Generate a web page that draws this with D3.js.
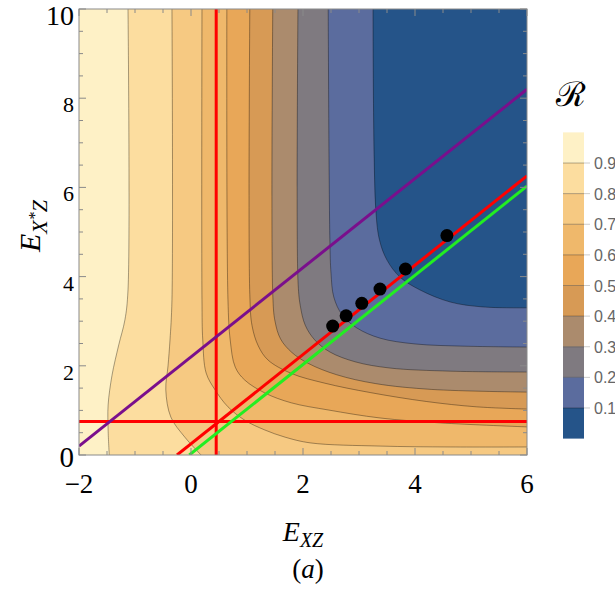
<!DOCTYPE html>
<html>
<head>
<meta charset="utf-8">
<script src="https://cdn.jsdelivr.net/npm/d3@7"></script>
<style>
  body { margin: 0; background: #ffffff; }
  svg { display: block; }
</style>
</head>
<body>
<div id="chart-container"></div>
<script>
const width = 615;
const height = 598;
const marginLeft = 79;
const marginRight = 88;
const marginTop = 9;
const marginBottom = 143;

// contour levels and band colours (from >0.9 down to <0.1)
const levels = [0.9, 0.8, 0.7, 0.6, 0.5, 0.4, 0.3, 0.2, 0.1];
const bandColors = ["#fef1c6", "#fcdd9f", "#f6c982", "#efb86b", "#e8a758",
                    "#d79a55", "#ab8b6d", "#7f7a80", "#5b6c9e", "#255489"];
const legendTicks = ["0.9", "0.8", "0.7", "0.6", "0.5", "0.4", "0.3", "0.2", "0.1"];

// contour lines, [E_XZ, E_X*Z]
const c90 = [[-1.125, 10], [-1.125, 3.7], [-1.18, 3.03], [-1.29, 2.47], [-1.41, 1.79], [-1.48, 1.12], [-1.48, 0.56], [-1.46, 0]];
const c80 = [[-0.34, 10], [-0.34, 3.48], [-0.375, 2.58], [-0.41, 2.0], [-0.45, 1.46], [-0.36, 0.85], [-0.11, 0.40], [0.18, 0]];
const c70 = [[0.196, 10], [0.196, 3.48], [0.21, 2.58], [0.27, 1.84], [0.43, 1.46], [0.66, 1.08], [0.96, 0.78], [1.32, 0.56], [1.68, 0.40], [2.14, 0.27], [3.375, 0.20], [4.63, 0.18], [6, 0.18]];
const c60 = [[0.64, 10], [0.66, 3.48], [0.70, 2.58], [0.79, 1.97], [0.96, 1.68], [1.32, 1.39], [1.79, 1.17], [2.45, 1.01], [3.375, 0.83], [4.45, 0.72], [6, 0.63]];
const c50 = [[1.05, 10], [1.05, 3.6], [1.09, 2.9], [1.2, 2.45], [1.375, 2.13], [1.79, 1.83], [2.39, 1.61], [3.2, 1.4], [4.2, 1.2], [5.1, 1.08], [6, 1.03]];
const c40 = [[1.46, 10], [1.46, 3.6], [1.5, 3.0], [1.6, 2.6], [1.8, 2.3], [2.1, 2.05], [2.6, 1.8], [3.3, 1.6], [4.3, 1.47], [6, 1.41]];
const c30 = [[1.91, 10], [1.91, 3.92], [1.95, 3.36], [2.04, 2.91], [2.21, 2.58], [2.48, 2.31], [2.93, 2.09], [3.55, 1.95], [4.63, 1.88], [6, 1.86]];
const c20 = [[2.45, 10], [2.48, 4.82], [2.5, 4.08], [2.55, 3.54], [2.70, 3.14], [2.96, 2.85], [3.375, 2.62], [4.0, 2.49], [4.89, 2.44], [6, 2.42]];
const c10 = [[3.25, 10], [3.30, 5.5], [3.37, 4.8], [3.5, 4.37], [3.73, 3.99], [4.09, 3.70], [4.63, 3.43], [5.21, 3.32], [6, 3.30]];
const contourLines = [c90, c80, c70, c60, c50, c40, c30, c20, c10];

// straight lines
const redVertical = [[0.45, 0], [0.45, 10]];
const redHorizontal = [[-2, 0.75], [6, 0.75]];
const redDiagonal = [[-0.25, 0], [6, 6.26]];
const greenDiagonal = [[-0.03, 0], [6, 6.03]];
const purpleDiagonal = [[-2, 0.2], [6, 8.2]];

// black points
const dotsX = [2.53, 2.77, 3.05, 3.375, 3.83, 4.57];
const dotsY = [2.89, 3.12, 3.40, 3.72, 4.17, 4.92];

const xTicks = [-2, 0, 2, 4, 6];
const yTicks = [0, 2, 4, 6, 8, 10];

const svg = d3.select("#chart-container")
    .append("svg")
    .attr("width", width)
    .attr("height", height);

const x = d3.scaleLinear().domain([-2, 6]).range([marginLeft, width - marginRight]);
const y = d3.scaleLinear().domain([0, 10]).range([height - marginBottom, marginTop]);

svg.append("clipPath").attr("id", "plotclip")
    .append("rect")
    .attr("x", x(-2)).attr("y", y(10))
    .attr("width", x(6) - x(-2)).attr("height", y(0) - y(10));

const plot = svg.append("g").attr("clip-path", "url(#plotclip)");

// background band (>0.9)
plot.append("rect")
    .attr("x", x(-2)).attr("y", y(10))
    .attr("width", x(6) - x(-2)).attr("height", y(0) - y(10))
    .attr("fill", bandColors[0]);

const curve = d3.line().x(d => x(d[0])).y(d => y(d[1])).curve(d3.curveCatmullRom.alpha(0.5));

// region below each level: contour + top-right corner of the frame
contourLines.forEach((pts, i) => {
    const last = pts[pts.length - 1];
    let path = curve(pts);
    if (last[1] === 0) path += `L${x(6)},${y(0)}`;
    path += `L${x(6)},${y(10)}Z`;
    plot.append("path")
        .attr("d", path)
        .attr("fill", bandColors[i + 1]);
});

contourLines.forEach(pts => {
    plot.append("path")
        .attr("d", curve(pts))
        .attr("fill", "none")
        .attr("stroke", "#000")
        .attr("stroke-opacity", 0.35)
        .attr("stroke-width", 1);
});

const straight = d3.line().x(d => x(d[0])).y(d => y(d[1]));
[[redVertical, "#ff0000"], [redHorizontal, "#ff0000"], [purpleDiagonal, "#7a0f8c"],
 [greenDiagonal, "#22ee22"], [redDiagonal, "#ff0000"]].forEach(([pts, col]) => {
    plot.append("path")
        .attr("d", straight(pts))
        .attr("fill", "none")
        .attr("stroke", col)
        .attr("stroke-width", 3);
});

plot.selectAll("circle.dot")
    .data(dotsX.map((d, i) => [d, dotsY[i]]))
    .join("circle")
    .attr("class", "dot")
    .attr("cx", d => x(d[0]))
    .attr("cy", d => y(d[1]))
    .attr("r", 6.5)
    .attr("fill", "#000");

// frame and ticks
const frameColor = "#8a8a8a";
svg.append("rect")
    .attr("x", x(-2)).attr("y", y(10))
    .attr("width", x(6) - x(-2)).attr("height", y(0) - y(10))
    .attr("fill", "none")
    .attr("stroke", frameColor)
    .attr("stroke-width", 1);

const tickG = svg.append("g").attr("stroke", frameColor).attr("stroke-width", 1);
d3.range(-2, 6.01, 0.5).forEach(v => {
    const len = Math.abs(v % 2) < 1e-9 ? 7 : 4;
    tickG.append("line").attr("x1", x(v)).attr("x2", x(v)).attr("y1", y(0)).attr("y2", y(0) - len);
    tickG.append("line").attr("x1", x(v)).attr("x2", x(v)).attr("y1", y(10)).attr("y2", y(10) + len);
});
d3.range(0, 10.01, 0.5).forEach(v => {
    const len = Math.abs(v % 2) < 1e-9 ? 7 : 4;
    tickG.append("line").attr("y1", y(v)).attr("y2", y(v)).attr("x1", x(-2)).attr("x2", x(-2) + len);
    tickG.append("line").attr("y1", y(v)).attr("y2", y(v)).attr("x1", x(6)).attr("x2", x(6) - len);
});

const serif = "'Liberation Serif', 'DejaVu Serif', serif";

svg.append("g").selectAll("text")
    .data(xTicks)
    .join("text")
    .attr("x", d => x(d))
    .attr("y", y(0) + 38)
    .attr("text-anchor", "middle")
    .attr("font-family", serif)
    .attr("font-size", 27)
    .text(d => d < 0 ? "\u2212" + Math.abs(d) : d);

// end labels of the y axis are drawn bigger in the reference
svg.append("g").selectAll("text")
    .data(yTicks)
    .join("text")
    .attr("x", x(-2) - 5)
    .attr("y", d => d === 10 ? y(d) + 16 : (d === 0 ? y(d) + 12 : y(d) + 14))
    .attr("text-anchor", "end")
    .attr("font-family", serif)
    .attr("font-size", d => d === 10 ? 28 : (d === 0 ? 29 : 22))
    .text(d => d);

// axis titles
const xt = svg.append("text")
    .attr("x", 303).attr("y", 541)
    .attr("text-anchor", "middle")
    .attr("font-family", serif)
    .attr("font-style", "italic")
    .attr("font-size", 28);
xt.append("tspan").text("E");
xt.append("tspan").attr("font-size", 20).attr("dy", 6).text("XZ");

const yt = svg.append("text")
    .attr("transform", "translate(40,226) rotate(-90)")
    .attr("text-anchor", "middle")
    .attr("font-family", serif)
    .attr("font-style", "italic")
    .attr("font-size", 30);
yt.append("tspan").text("E");
yt.append("tspan").attr("font-size", 22).attr("dy", 7).text("X");
yt.append("tspan").attr("font-size", 16).attr("dy", -7).text("*");
yt.append("tspan").attr("font-size", 22).attr("dy", 7).text("Z");

const cap = svg.append("text")
    .attr("x", 308).attr("y", 578)
    .attr("text-anchor", "middle")
    .attr("font-family", serif)
    .attr("font-size", 27);
cap.append("tspan").text("(");
cap.append("tspan").attr("font-style", "italic").text("a");
cap.append("tspan").text(")");

// colour bar legend
const barX = 563, barW = 21;
const ly = d3.scaleLinear().domain([0, 1]).range([438.6, 132.4]);
const bandEdges = [1].concat(levels).concat([0]);
const legend = svg.append("g");
bandColors.forEach((c, i) => {
    legend.append("rect")
        .attr("x", barX).attr("width", barW)
        .attr("y", ly(bandEdges[i]))
        .attr("height", ly(bandEdges[i + 1]) - ly(bandEdges[i]))
        .attr("fill", c);
});
levels.forEach(v => {
    legend.append("line")
        .attr("x1", barX).attr("x2", barX + barW)
        .attr("y1", ly(v)).attr("y2", ly(v))
        .attr("stroke", "#000").attr("stroke-opacity", 0.3);
    legend.append("line")
        .attr("x1", barX + barW).attr("x2", barX + barW + 6)
        .attr("y1", ly(v)).attr("y2", ly(v))
        .attr("stroke", "#cccccc");
});
legend.selectAll("text.lt")
    .data(levels)
    .join("text")
    .attr("class", "lt")
    .attr("x", 594)
    .attr("y", d => ly(d) + 6)
    .attr("font-family", "'Liberation Sans', Arial, sans-serif")
    .attr("font-size", 16)
    .attr("fill", "#666")
    .text((d, i) => legendTicks[i]);

svg.append("text")
    .attr("x", 571).attr("y", 106)
    .attr("text-anchor", "middle")
    .attr("font-family", "'DejaVu Serif', serif")
    .attr("font-size", 34)
    .text("\u211B");
</script>
</body>
</html>
